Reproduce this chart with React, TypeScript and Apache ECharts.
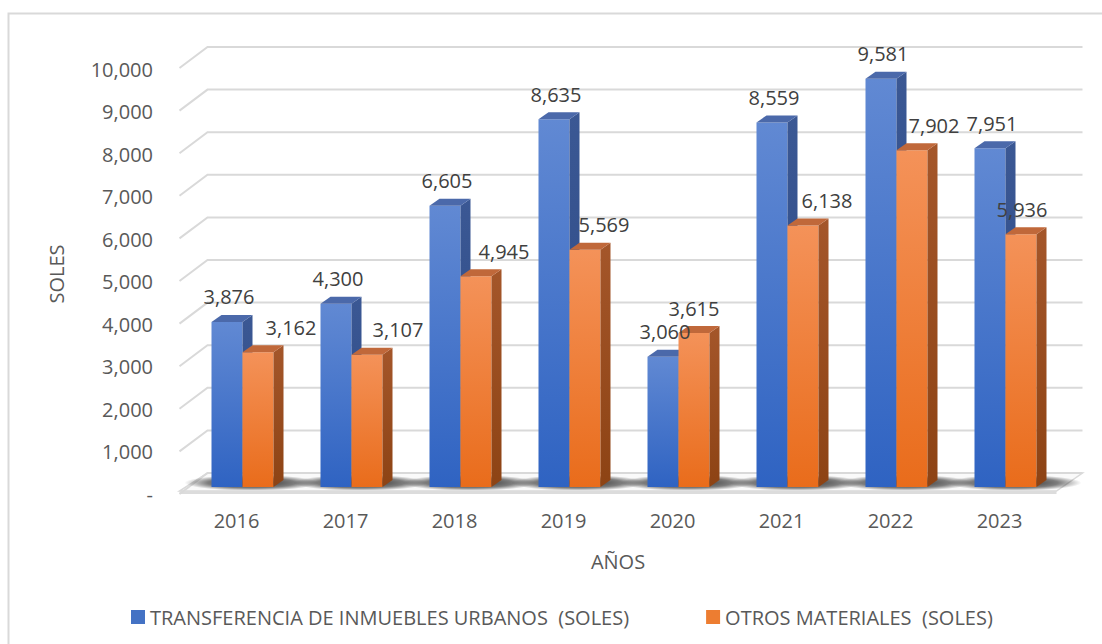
import React, { useEffect, useRef } from "react";
import * as echarts from "echarts";

const years = ["2016", "2017", "2018", "2019", "2020", "2021", "2022", "2023"];
const transferencia = [3876, 4300, 6605, 8635, 3060, 8559, 9581, 7951];
const otros = [3162, 3107, 4945, 5569, 3615, 6138, 7902, 5936];
const yTicks = [0, 1000, 2000, 3000, 4000, 5000, 6000, 7000, 8000, 9000, 10000];

const SERIES_A = "TRANSFERENCIA DE INMUEBLES URBANOS  (SOLES)";
const SERIES_B = "OTROS MATERIALES  (SOLES)";

// style: horizontal label nudges (px) reproducing the reference label placement
const blueLabelNudge = [0, 0, 0, 0, 0, 0, 0, 0];
const orangeLabelNudge = [31, 29, 26, 17, -2, 22, 20, -1];

const FONT = '"Open Sans", sans-serif';
const BAR_W = 31;
const DX = 10;
const DY = 7;
const WALL_DX = 25.5;
const WALL_DY = 14;

const fmt = (v: number) => (v === 0 ? "-" : v.toLocaleString("en-US"));

const blueColors = {
  front: ["#6189d3", "#2f63c2"],
  side: ["#3b5894", "#2b4884"],
  top: "#4b69aa",
};
const orangeColors = {
  front: ["#f49259", "#e96c1b"],
  side: ["#a4562a", "#8d4314"],
  top: "#c0683a",
};

function lg(c: string[]) {
  return new echarts.graphic.LinearGradient(0, 0, 0, 1, [
    { offset: 0, color: c[0] },
    { offset: 1, color: c[1] },
  ]);
}

function barRender(offset: number, colors: any) {
  return (params: any, api: any) => {
    const idx = api.value(0);
    const v = api.value(1);
    const p = api.coord([idx, v]);
    const y0 = api.coord([idx, 0])[1];
    const yTop = p[1];
    const x0 = p[0] + offset;
    const x1 = x0 + BAR_W;
    return {
      type: "group",
      children: [
        {
          type: "polygon",
          shape: { points: [[x0, yTop], [x1, yTop], [x1, y0], [x0, y0]] },
          style: { fill: lg(colors.front) },
        },
        {
          type: "polygon",
          shape: { points: [[x1, yTop], [x1 + DX, yTop - DY], [x1 + DX, y0 - DY], [x1, y0]] },
          style: { fill: lg(colors.side) },
        },
        {
          type: "polygon",
          shape: { points: [[x0, yTop], [x0 + DX, yTop - DY], [x1 + DX, yTop - DY], [x1, yTop]] },
          style: { fill: colors.top },
        },
      ],
    };
  };
}

function labelRender(offset: number, nudges: number[]) {
  return (params: any, api: any) => {
    const idx = api.value(0);
    const v = api.value(1);
    const p = api.coord([idx, v]);
    return {
      type: "text",
      x: p[0] + offset + BAR_W / 2 + 2 + nudges[idx],
      y: p[1] - 25,
      style: {
        text: fmt(v),
        fill: "#404040",
        fontSize: 20,
        fontFamily: FONT,
        align: "center",
        verticalAlign: "middle",
      },
    };
  };
}

const gridLineRender = (params: any, api: any) => {
  const cs = params.coordSys;
  const L = cs.x;
  const R = cs.x + cs.width;
  const y = api.coord([0, api.value(1)])[1];
  const by = y - WALL_DY;
  return {
    type: "polyline",
    shape: { points: [[L - 2.5, by + 21], [L + WALL_DX, by], [R + 28.5, by]] },
    style: { stroke: "#d9d9d9", lineWidth: 2, fill: "none" },
  };
};

const floorRender = (params: any, api: any) => {
  const cs = params.coordSys;
  const L = cs.x;
  const R = cs.x + cs.width;
  const y0 = cs.y + cs.height;
  return {
    type: "group",
    children: [
      {
        type: "polygon",
        shape: {
          points: [[L - 2.5, y0 + 4], [R + 2.5, y0 + 4], [R + 28.5, y0 - WALL_DY], [L + WALL_DX, y0 - WALL_DY]],
        },
        style: { fill: "#fafafa", stroke: "#d9d9d9", lineWidth: 1.5 },
      },
      {
        type: "polygon",
        shape: { points: [[L - 2.5, y0 + 4], [R + 2.5, y0 + 4], [R + 2.5, y0 + 7], [L - 2.5, y0 + 7]] },
        style: { fill: "#dcdcdc" },
      },
    ],
  };
};

const shadowRender = (params: any, api: any) => {
  const idx = api.value(0);
  const c = api.coord([idx, 0]);
  const y0 = c[1];
  return {
    type: "rect",
    shape: { x: c[0] - 52, y: y0 - 13, width: 134, height: 16 },
    style: {
      fill: new echarts.graphic.RadialGradient(0.5, 0.55, 0.5, [
        { offset: 0, color: "rgba(0,0,0,0.85)" },
        { offset: 0.65, color: "rgba(0,0,0,0.5)" },
        { offset: 1, color: "rgba(0,0,0,0)" },
      ]),
    },
  };
};

export default function App() {
  const ref = useRef<HTMLDivElement>(null);
  useEffect(() => {
    const chart = echarts.init(ref.current as HTMLDivElement, null, { renderer: "svg" });
    const option: any = {
      animation: false,
      backgroundColor: "#ffffff",
      textStyle: { fontFamily: FONT },
      graphic: [
        {
          type: "rect",
          shape: { x: 8.5, y: 13.5, width: 1110, height: 660 },
          style: { fill: "none", stroke: "#d9d9d9", lineWidth: 2 },
          silent: true,
        },
      ],
      legend: {
        data: [SERIES_A, SERIES_B],
        left: 126,
        top: 602,
        icon: "rect",
        itemWidth: 14,
        itemHeight: 14,
        itemGap: 77,
        textStyle: { fontSize: 20, color: "#595959", fontFamily: FONT },
      },
      grid: [
        { left: 182, top: 61, width: 872, height: 426 },
        { left: 170, top: 69, width: 100, height: 425 },
      ],
      xAxis: [
        {
          type: "category",
          gridIndex: 0,
          data: years,
          axisLine: { show: false },
          axisTick: { show: false },
          axisLabel: { fontSize: 20, color: "#595959", margin: 23, fontFamily: FONT },
          name: "AÑOS",
          nameLocation: "middle",
          nameGap: 64,
          nameTextStyle: { fontSize: 20, color: "#595959", fontFamily: FONT },
        },
        { type: "value", gridIndex: 1, show: false },
      ],
      yAxis: [
        {
          type: "value",
          gridIndex: 0,
          min: 0,
          max: 10000,
          interval: 1000,
          axisLine: { show: false },
          axisTick: { show: false },
          axisLabel: { show: false },
          splitLine: { show: false },
          name: "SOLES",
          nameLocation: "middle",
          nameGap: 116,
          nameRotate: 90,
          nameTextStyle: { fontSize: 20, color: "#595959", fontFamily: FONT },
        },
        {
          type: "value",
          gridIndex: 1,
          min: 0,
          max: 10000,
          interval: 1000,
          axisLine: { show: false },
          axisTick: { show: false },
          splitLine: { show: false },
          axisLabel: {
            formatter: (v: number) => fmt(v),
            fontSize: 20,
            color: "#595959",
            margin: 17,
            fontFamily: FONT,
          },
        },
      ],
      series: [
        {
          name: "floor",
          type: "custom",
          xAxisIndex: 0,
          yAxisIndex: 0,
          renderItem: floorRender,
          data: [[0, 0]],
          z: 1,
          silent: true,
          clip: false,
        },
        {
          name: "gridlines",
          type: "custom",
          xAxisIndex: 0,
          yAxisIndex: 0,
          renderItem: gridLineRender,
          data: yTicks.map((v) => [0, v]),
          z: 2,
          silent: true,
          clip: false,
        },
        {
          name: "shadows",
          type: "custom",
          xAxisIndex: 0,
          yAxisIndex: 0,
          renderItem: shadowRender,
          data: years.map((_, i) => [i, 0]),
          z: 3,
          silent: true,
          clip: false,
        },
        {
          name: SERIES_A,
          type: "custom",
          renderItem: barRender(-25, blueColors),
          itemStyle: { color: "#4472c4" },
          encode: { x: 0, y: 1 },
          data: transferencia.map((v, i) => [i, v]),
          z: 4,
          clip: false,
        },
        {
          name: SERIES_B,
          type: "custom",
          renderItem: barRender(6, orangeColors),
          itemStyle: { color: "#ed7d31" },
          encode: { x: 0, y: 1 },
          data: otros.map((v, i) => [i, v]),
          z: 4,
          clip: false,
        },
        {
          name: "labelsA",
          type: "custom",
          renderItem: labelRender(-25, blueLabelNudge),
          data: transferencia.map((v, i) => [i, v]),
          z: 6,
          silent: true,
          clip: false,
        },
        {
          name: "labelsB",
          type: "custom",
          renderItem: labelRender(6, orangeLabelNudge),
          data: otros.map((v, i) => [i, v]),
          z: 6,
          silent: true,
          clip: false,
        },
      ],
    };
    chart.setOption(option);
    return () => chart.dispose();
  }, []);
  return (
    <div
      ref={ref}
      style={{ position: "absolute", left: 0, top: 0, width: 1102, height: 644, background: "#fff" }}
    />
  );
}
